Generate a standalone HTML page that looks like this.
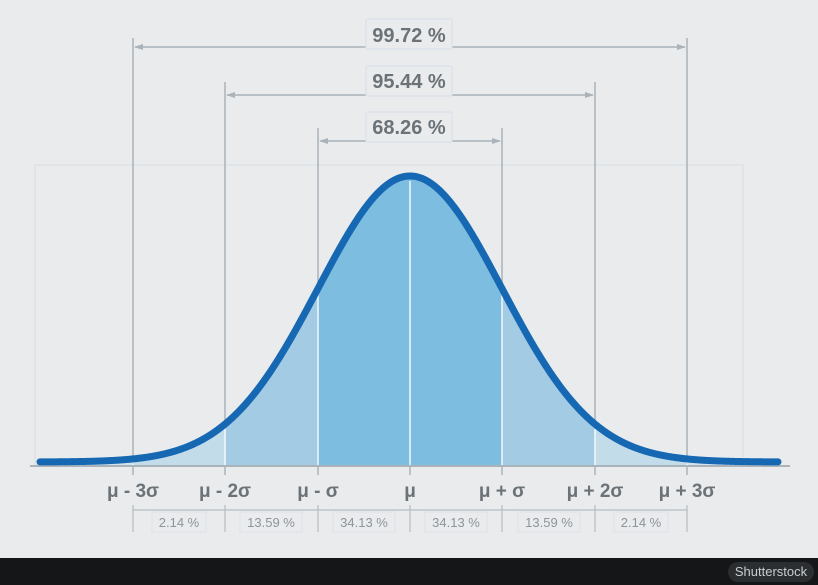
<!DOCTYPE html><html><head><style>body{margin:0;background:#e9ebec}svg{display:block}</style></head><body>
<svg id="s" width="818" height="585" viewBox="0 0 818 585" font-family="Liberation Sans, sans-serif">
<rect width="818" height="585" fill="#e9ebec"/>
<rect x="35" y="165" width="708" height="300" fill="none" stroke="#dfe3e7" stroke-width="1.5"/>
<g stroke="#aab3ba" stroke-width="1.5">
<line x1="133" y1="38" x2="133" y2="475"/><line x1="687" y1="38" x2="687" y2="475"/>
<line x1="225" y1="82" x2="225" y2="475"/><line x1="595" y1="82" x2="595" y2="475"/>
<line x1="318" y1="128" x2="318" y2="475"/><line x1="502" y1="128" x2="502" y2="475"/>
<line x1="410" y1="466" x2="410" y2="475"/>
<line x1="135" y1="47" x2="685" y2="47"/><line x1="227" y1="95" x2="593" y2="95"/><line x1="320" y1="141" x2="500" y2="141"/>
</g>
<g id="fills"></g>
<g stroke="#f4f8fb" stroke-width="1.5" id="wl"></g>
<line x1="30" y1="466" x2="790" y2="466" stroke="#aab3ba" stroke-width="2"/>
<g fill="#aab3ba">
<path d="M134 47l9-3v6zM686 47l-9-3v6zM226 95l9-3v6zM594 95l-9-3v6zM319 141l9-3v6zM501 141l-9-3v6z"/>
</g>
<g fill="#e9ebec" stroke="#dde3ec" stroke-width="1.5">
<rect x="366" y="19" width="86" height="30" rx="2"/><rect x="366" y="66" width="86" height="30" rx="2"/><rect x="366" y="112" width="86" height="30" rx="2"/>
</g>
<g fill="#6b7379" font-weight="bold" font-size="20" text-anchor="middle">
<text x="409" y="42">99.72 %</text><text x="409" y="88">95.44 %</text><text x="409" y="134">68.26 %</text>
</g>
<path id="curve" fill="none" stroke="#1668b3" stroke-width="7" stroke-linecap="round"/>
<g fill="#6b7379" font-weight="bold" font-size="19" text-anchor="middle">
<text x="133" y="497">μ - 3σ</text><text x="225" y="497">μ - 2σ</text><text x="318" y="497">μ - σ</text><text x="410" y="497">μ</text><text x="502" y="497">μ + σ</text><text x="595" y="497">μ + 2σ</text><text x="687" y="497">μ + 3σ</text>
</g>
<g stroke="#b5bcc2" stroke-width="1.2">
<line x1="133" y1="505" x2="133" y2="532"/><line x1="225" y1="505" x2="225" y2="532"/><line x1="318" y1="505" x2="318" y2="532"/><line x1="410" y1="505" x2="410" y2="532"/><line x1="502" y1="505" x2="502" y2="532"/><line x1="595" y1="505" x2="595" y2="532"/><line x1="687" y1="505" x2="687" y2="532"/>
<line x1="133" y1="510" x2="687" y2="510"/>
</g>
<g fill="#e9ebec" stroke="#dde3ec">
<rect x="152" y="512" width="54" height="20"/><rect x="240" y="512" width="62" height="20"/><rect x="333" y="512" width="62" height="20"/><rect x="425" y="512" width="62" height="20"/><rect x="518" y="512" width="62" height="20"/><rect x="614" y="512" width="54" height="20"/>
</g>
<g fill="#8d959c" font-size="13" text-anchor="middle">
<text x="179" y="527">2.14 %</text><text x="271" y="527">13.59 %</text><text x="364" y="527">34.13 %</text><text x="456" y="527">34.13 %</text><text x="549" y="527">13.59 %</text><text x="641" y="527">2.14 %</text>
</g>
<rect x="0" y="558" width="818" height="27" fill="#141617"/>
<rect x="728" y="562" width="86" height="20" rx="10" fill="#2b2e31"/>
<text x="771" y="576" fill="#c9cdd1" font-size="13" text-anchor="middle">Shutterstock</text>
</svg>
<script>
function f(x){return 465-286*Math.exp(-Math.pow((x-410)/92,2)/2);}
function area(a,b,c){var d="M"+a+" 465";for(var x=a;x<=b;x+=1)d+="L"+x+" "+f(x).toFixed(2);d+="L"+b+" "+f(b).toFixed(2)+"L"+b+" 465Z";return '<path d="'+d+'" fill="'+c+'"/>';}
var h="";
h+=area(40,133,"#d3e3ec")+area(687,778,"#d3e3ec");
h+=area(133,225,"#c3dcea")+area(595,687,"#c3dcea");
h+=area(225,318,"#a3cbe3")+area(502,595,"#a3cbe3");
h+=area(318,502,"#7dbde0");
document.getElementById("fills").innerHTML=h;
var w="";[133,225,318,410,502,595,687].forEach(function(x){w+='<line x1="'+x+'" y1="'+(f(x)+2)+'" x2="'+x+'" y2="465"/>';});
document.getElementById("wl").innerHTML=w;
var d="";for(var x=40;x<=778;x+=1)d+=(x==40?"M":"L")+x+" "+(f(x)-3).toFixed(2);
document.getElementById("curve").setAttribute("d",d);
</script>
</body></html>
